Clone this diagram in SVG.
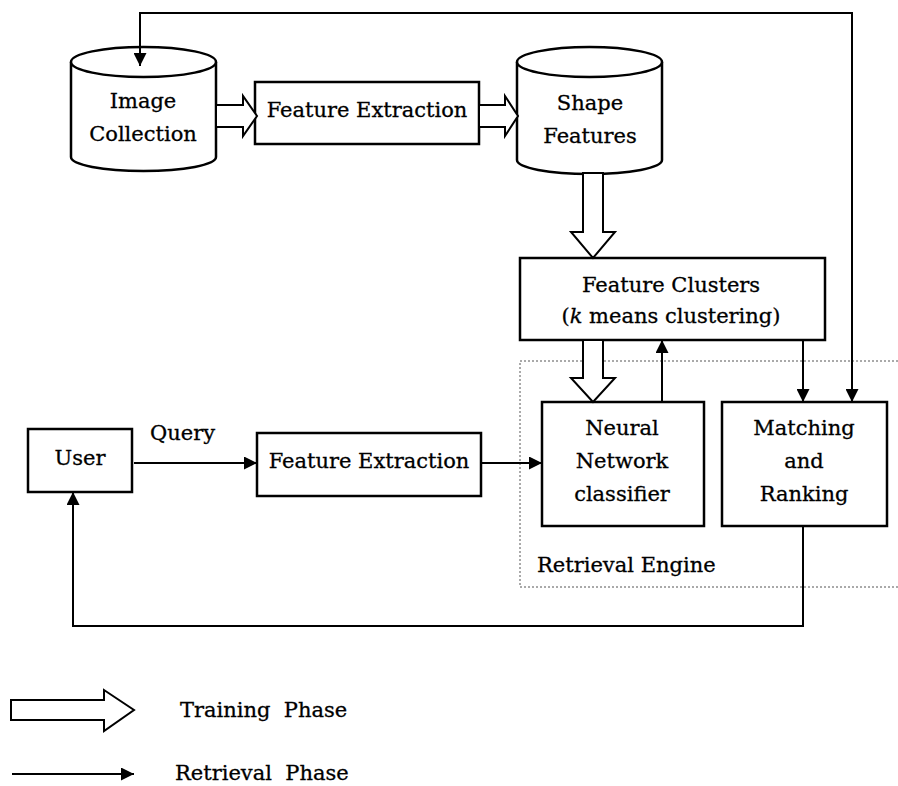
<svg xmlns="http://www.w3.org/2000/svg" width="898" height="786" viewBox="0 0 898 786">
  <style>
    .box { fill: #fff; stroke: #000; stroke-width: 2.5; }
    .cyl { fill: #fff; stroke: #000; stroke-width: 2.5; }
    .wire { fill: none; stroke: #000; stroke-width: 2; }
    .hollow { fill: #fff; stroke: #000; stroke-width: 2; stroke-linejoin: miter; }
    .zone { fill: none; stroke: #555; stroke-width: 1; stroke-dasharray: 2 2; }
    text { font-family: "DejaVu Serif", "Liberation Serif", serif; font-size: 21px; fill: #000; stroke: #000; stroke-width: 0.3; }
    .c { text-anchor: middle; }
  </style>
  <defs>
    <marker id="headL" viewBox="0 0 12 12" refX="12" refY="6" markerWidth="13" markerHeight="13" markerUnits="userSpaceOnUse" orient="auto">
      <path d="M0,0 L12,6 L0,12 z" fill="#000"/>
    </marker>
  </defs>

  <!-- Retrieval engine region -->
  <g id="retrieval-engine">
    <rect class="zone" x="520" y="361" width="390" height="226"/>
    <text x="537" y="572">Retrieval Engine</text>
  </g>

  <!-- Nodes -->
  <g id="image-collection">
    <path class="cyl" d="M71,62 A72.5,15 0 0 1 216,62 L216,157 A72.5,14 0 0 1 71,157 Z"/>
    <path class="cyl" fill="none" d="M71,62 A72.5,15 0 0 0 216,62"/>
    <text class="c" x="143" y="108">Image</text>
    <text class="c" x="143" y="141">Collection</text>
  </g>

  <g id="feature-extraction-1">
    <rect class="box" x="255" y="82" width="224" height="62"/>
    <text class="c" x="367" y="117">Feature Extraction</text>
  </g>

  <g id="shape-features">
    <path class="cyl" d="M517,62 A72.5,15 0 0 1 662,62 L662,160 A72.5,14 0 0 1 517,160 Z"/>
    <path class="cyl" fill="none" d="M517,62 A72.5,15 0 0 0 662,62"/>
    <text class="c" x="590" y="110">Shape</text>
    <text class="c" x="590" y="143">Features</text>
  </g>

  <g id="feature-clusters">
    <rect class="box" x="520" y="258" width="305" height="82"/>
    <text class="c" x="671" y="292">Feature Clusters</text>
    <text class="c" x="671" y="323">(<tspan font-style="italic">k</tspan> means clustering)</text>
  </g>

  <g id="neural-network">
    <rect class="box" x="542" y="402" width="162" height="124"/>
    <text class="c" x="622" y="435">Neural</text>
    <text class="c" x="622" y="468">Network</text>
    <text class="c" x="622" y="501">classifier</text>
  </g>

  <g id="matching-ranking">
    <rect class="box" x="722" y="402" width="165" height="124"/>
    <text class="c" x="804" y="435">Matching</text>
    <text class="c" x="804" y="468">and</text>
    <text class="c" x="804" y="501">Ranking</text>
  </g>

  <g id="user">
    <rect class="box" x="28" y="429" width="104" height="63"/>
    <text class="c" x="80" y="465">User</text>
  </g>

  <g id="feature-extraction-2">
    <rect class="box" x="257" y="433" width="224" height="63"/>
    <text class="c" x="369" y="468">Feature Extraction</text>
  </g>

  <!-- Connectors -->
  <g id="connectors">
    <!-- training phase (hollow arrows) -->
    <path class="hollow" d="M216,105 L243,105 L243,96 L257,116 L243,136 L243,127 L216,127 Z"/>
    <path class="hollow" d="M479,105 L505,105 L505,96 L518,116 L505,136 L505,127 L479,127 Z"/>
    <path class="hollow" d="M583,173 L583,232 L571,232 L593,258 L615,232 L603,232 L603,173 Z"/>
    <path class="hollow" d="M583,340 L583,378 L571,378 L593,402 L615,378 L603,378 L603,340 Z"/>

    <!-- retrieval phase -->
    <path class="wire" d="M852,402 L852,13 L140,13 L140,66" marker-end="url(#headL)"/>
    <line class="wire" x1="852" y1="340" x2="852" y2="402" marker-end="url(#headL)"/>
    <line class="wire" x1="662" y1="402" x2="662" y2="340" marker-end="url(#headL)"/>
    <line class="wire" x1="803" y1="340" x2="803" y2="402" marker-end="url(#headL)"/>
    <line class="wire" x1="134" y1="463" x2="257" y2="463" marker-end="url(#headL)"/>
    <line class="wire" x1="481" y1="463" x2="542" y2="463" marker-end="url(#headL)"/>
    <path class="wire" d="M803,526 L803,626 L73,626 L73,492" marker-end="url(#headL)"/>
    <text x="150" y="440">Query</text>
  </g>

  <!-- Legend -->
  <g id="legend">
    <path class="hollow" d="M11,700 L104,700 L104,690 L134,710 L104,731 L104,720 L11,720 Z"/>
    <text x="180" y="717" xml:space="preserve">Training  Phase</text>
    <line class="wire" x1="12" y1="774" x2="134" y2="774" marker-end="url(#headL)"/>
    <text x="175" y="780" xml:space="preserve">Retrieval  Phase</text>
  </g>
</svg>
